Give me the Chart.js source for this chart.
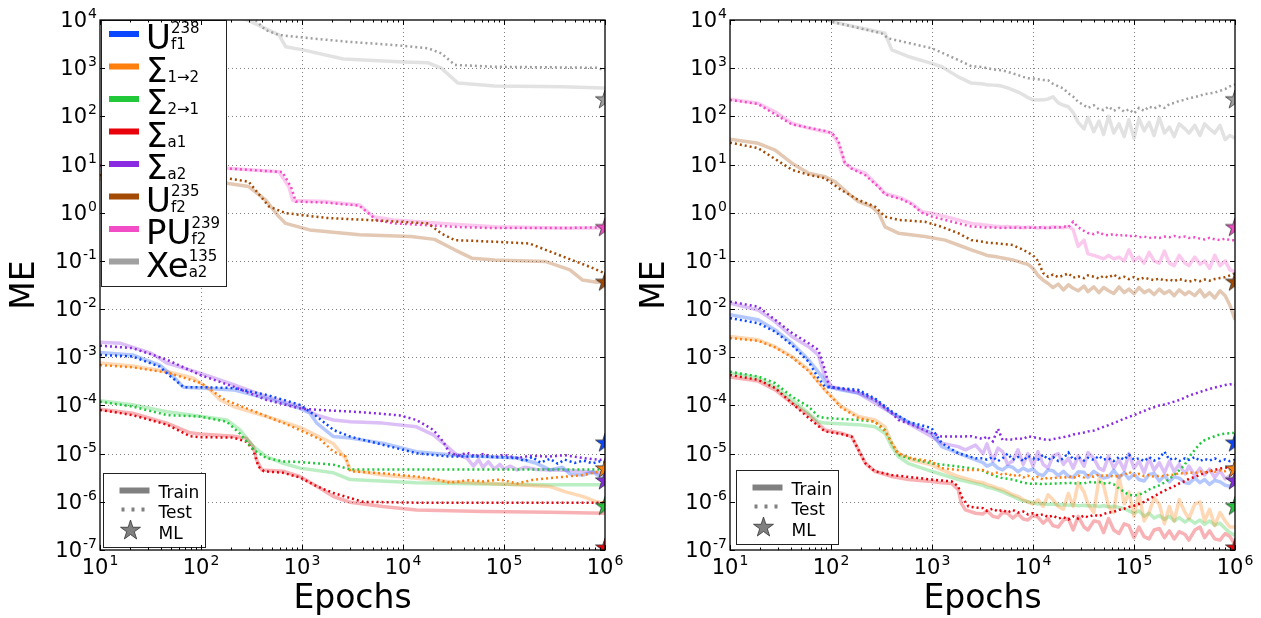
<!DOCTYPE html>
<html>
<head>
<meta charset="utf-8">
<script src="https://cdn.jsdelivr.net/npm/chart.js@4/dist/chart.umd.min.js"></script>
<style>
  body { margin: 0; background: #fff; }
  canvas { position: absolute; top: 0; }
</style>
</head>
<body>
<canvas id="leftPanel" width="630" height="618" style="left:0"></canvas>
<canvas id="rightPanel" width="631" height="618" style="left:630px"></canvas>
<script>
// series order: U238 f1, S 1->2, S 2->1, S a1, S a2, U235 f2, PU239 f2, Xe135 a2
const seriesColors = ['#0a47ff', '#ff7f0e', '#20c83a', '#e8000b', '#8a2be2', '#a34a04', '#f24cc6', '#a0a0a0'];
const legendMain = ['U', 'Σ', 'Σ', 'Σ', 'Σ', 'U', 'PU', 'Xe'];
const legendSup = ['238', '', '', '', '', '235', '239', '135'];
const legendSub = ['f1', '1→2', '2→1', 'a1', 'a2', 'f2', 'f2', 'a2'];

const xTicks = [1e1, 1e2, 1e3, 1e4, 1e5, 1e6];
const xTickExp = ['1', '2', '3', '4', '5', '6'];
const yTicks = [1e4, 1e3, 1e2, 1e1, 1e0, 1e-1, 1e-2, 1e-3, 1e-4, 1e-5, 1e-6, 1e-7];
const yTickExp = ['4', '3', '2', '1', '0', '-1', '-2', '-3', '-4', '-5', '-6', '-7'];

// ML reference values (stars at the last epoch)
const mlValues = [1.65e-5, 4.8e-6, 8e-7, 1.1e-7, 2.7e-6, 0.036, 0.49, 220];

// ---- left panel: [epoch, ME]
const leftTrain_U238 = [[10,1.26e-3],[21,1.12e-3],[39,6.9e-4],[53,4e-4],[67,2.4e-4],[98,2.3e-4],[210,2.1e-4],[445,1.4e-4],[955,8.7e-5],[1200,6.9e-5],[1400,4.3e-5],[2050,2.26e-5],[3000,2.1e-5],[6300,1.65e-5],[13600,1.1e-5],[29000,9.5e-6],[62000,8.7e-6],[135000,8.1e-6],[210000,6.3e-6],[285000,4.6e-6],[380000,5.2e-6],[450000,3.8e-6],[610000,3.6e-6],[750000,4.2e-6],[890000,3.35e-6],[1e6,3.3e-6]];
const leftTest_U238 = [[10,1.12e-3],[21,1.04e-3],[39,6.4e-4],[50,4e-4],[63,2.7e-4],[67,2.4e-4],[98,2.4e-4],[210,2.3e-4],[445,1.66e-4],[955,1.03e-4],[1400,5.9e-5],[2050,3.1e-5],[3000,2.26e-5],[13600,1.02e-5],[29000,8.7e-6],[62000,8.7e-6],[135000,8.1e-6],[160000,7e-6],[190000,8.5e-6],[230000,6.5e-6],[285000,7.8e-6],[340000,6.2e-6],[400000,7.5e-6],[500000,6.4e-6],[610000,7.2e-6],[750000,6.3e-6],[890000,6.9e-6],[1e6,6.7e-6]];
const leftTrain_S12 = [[10,7.6e-4],[21,6.6e-4],[47,5e-4],[84,3.7e-4],[123,2.1e-4],[155,1.3e-4],[210,9.5e-5],[445,5.9e-5],[955,3.5e-5],[2050,1.6e-5],[2700,8e-6],[3000,4.6e-6],[6300,3.6e-6],[13600,3.1e-6],[29000,2.6e-6],[62000,2.43e-6],[135000,2.25e-6],[285000,2.08e-6],[400000,1.63e-6],[610000,1.28e-6],[830000,1e-6],[1e6,9.3e-7]];
const leftTest_S12 = [[10,6.9e-4],[21,6.2e-4],[47,4.8e-4],[101,2.9e-4],[173,1.3e-4],[375,6.9e-5],[810,3.6e-5],[1500,2e-5],[2050,1.1e-5],[2700,8.7e-6],[3000,4.3e-6],[6300,3.9e-6],[13600,3.35e-6],[20000,3e-6],[29000,2.5e-6],[45000,2.8e-6],[62000,2.65e-6],[91000,2.9e-6],[135000,2.4e-6],[200000,2.9e-6],[285000,3.1e-6],[450000,3.4e-6],[610000,3.6e-6],[890000,4.3e-6],[1e6,4e-6]];
const leftTrain_S21 = [[10,1.26e-4],[21,1.03e-4],[46,7.4e-5],[98,6e-5],[180,5e-5],[243,3.1e-5],[330,1.4e-5],[445,8.7e-6],[650,6.3e-6],[955,5e-6],[2050,4e-6],[3000,2.9e-6],[13600,2.5e-6],[62000,2.35e-6],[285000,2.25e-6],[1e6,2.25e-6]];
const leftTest_S21 = [[10,1.2e-4],[21,9.5e-5],[46,6.3e-5],[98,5.9e-5],[180,4.6e-5],[243,2.6e-5],[330,1.2e-5],[445,8.1e-6],[650,6.9e-6],[955,6.7e-6],[2050,5.9e-6],[3000,4.7e-6],[1e6,4.7e-6]];
const leftTrain_Sa1 = [[10,8.3e-5],[21,6.9e-5],[46,4.3e-5],[78,2.7e-5],[98,2.55e-5],[210,2.3e-5],[280,2.1e-5],[330,1.4e-5],[355,7.4e-6],[400,4.6e-6],[650,4.3e-6],[955,3.35e-6],[1400,2.1e-6],[2050,1.29e-6],[3000,9.8e-7],[6300,8e-7],[13600,6.8e-7],[62000,6.3e-7],[285000,6.1e-7],[1e6,5.8e-7]];
const leftTest_Sa1 = [[10,8.1e-5],[21,6.3e-5],[46,4e-5],[78,2.3e-5],[98,2.2e-5],[210,2.15e-5],[280,1.77e-5],[330,1.2e-5],[370,5.4e-6],[420,4.3e-6],[650,4e-6],[955,3.2e-6],[1400,2.1e-6],[2050,1.52e-6],[3000,1.2e-6],[4000,1e-6],[13600,9.6e-7],[1e6,9.6e-7]];
const leftTrain_Sa2 = [[10,2.06e-3],[16,1.95e-3],[32,1.22e-3],[46,7.6e-4],[98,4.7e-4],[210,2.7e-4],[445,1.53e-4],[955,9.5e-5],[1400,6.3e-5],[2050,5e-5],[3000,4.6e-5],[6300,4.3e-5],[13600,3.6e-5],[20000,2.45e-5],[25000,1.65e-5],[34000,9.5e-6],[43000,8.1e-6],[50000,5.5e-6],[56000,7.5e-6],[62000,5.2e-6],[70000,6.8e-6],[80000,4.8e-6],[91000,6e-6],[100000,4.8e-6],[115000,5.5e-6],[135000,4.6e-6],[160000,5.2e-6],[210000,4.7e-6],[285000,4.6e-6],[400000,4.5e-6],[610000,4.3e-6],[890000,4e-6],[1e6,3.9e-6]];
const leftTest_Sa2 = [[10,1.74e-3],[21,1.55e-3],[46,8.9e-4],[98,4.3e-4],[210,2.45e-4],[445,1.3e-4],[955,8.7e-5],[1400,8.1e-5],[3000,7.5e-5],[6300,6.7e-5],[9300,6.2e-5],[13600,5e-5],[20000,3.1e-5],[25000,1.77e-5],[29000,1.02e-5],[36000,9.2e-6],[43000,1.05e-5],[52000,8.8e-6],[62000,9.8e-6],[80000,8.4e-6],[100000,9.5e-6],[135000,8.1e-6],[180000,9e-6],[285000,8.7e-6],[400000,9.3e-6],[610000,8.1e-6],[890000,7.4e-6],[1e6,7.8e-6]];
const leftTrain_U235 = [[10,5],[180,4.1],[297,3.5],[435,1.84],[590,0.83],[690,0.6],[1190,0.44],[3700,0.35],[12000,0.32],[20500,0.28],[32500,0.17],[48000,0.114],[81000,0.105],[260000,0.097],[450000,0.065],[600000,0.04],[830000,0.036],[1e6,0.038]];
const leftTest_U235 = [[10,6],[180,5.2],[297,4.4],[470,1.35],[690,0.98],[1740,0.78],[4400,0.71],[17800,0.6],[24000,0.37],[32500,0.27],[81000,0.25],[178000,0.23],[380000,0.124],[700000,0.076],[1e6,0.055]];
const leftTrain_PU239 = [[10,9.5],[180,8.4],[590,7.1],[740,3.5],[810,1.8],[1740,1.7],[3700,1.45],[5100,0.83],[8100,0.71],[17800,0.63],[38000,0.56],[81000,0.51],[380000,0.48],[1e6,0.48]];
const leftTest_PU239 = [[10,9.5],[180,8.3],[640,7],[780,3.4],[870,1.7],[1740,1.62],[3700,1.4],[5500,0.7],[8100,0.6],[17800,0.55],[38000,0.5],[81000,0.48],[380000,0.48],[1e6,0.5]];
const leftTrain_Xe135 = [[10,5e4],[100,2e4],[297,9700],[590,4900],[690,2790],[1020,2400],[2570,1550],[10200,1350],[17800,1290],[24000,1000],[35000,490],[81000,425],[380000,410],[950000,390],[1e6,380]];
const leftTest_Xe135 = [[10,5e4],[100,2.5e4],[350,9700],[435,6200],[590,4900],[945,4400],[2750,3550],[8100,3030],[17800,2580],[24000,2030],[32500,1170],[81000,1070],[830000,1020],[1e6,890]];

// ---- right panel: early part as [epoch, ME], noisy late part on lateEpochs
const lateEpochs = [3.2e3,3.5e3,4e3,4.5e3,5e3,5.6e3,6.3e3,7.1e3,8e3,8.9e3,1e4,1.12e4,1.26e4,1.41e4,1.58e4,1.78e4,2e4,2.24e4,2.5e4,2.8e4,3.2e4,3.5e4,4e4,4.5e4,5e4,5.6e4,6.3e4,7.1e4,8e4,8.9e4,1e5,1.12e5,1.26e5,1.41e5,1.58e5,1.78e5,2e5,2.24e5,2.5e5,2.8e5,3.2e5,3.5e5,4e5,4.5e5,5e5,5.6e5,6.3e5,7.1e5,8e5,8.9e5,1e6];

const rightTrainHead_U238 = [[10,7.6e-3],[19,6e-3],[28,3.7e-3],[41,1.96e-3],[60,8.9e-4],[81,4e-4],[93,2.45e-4],[127,2.1e-4],[187,1.8e-4],[272,1.3e-4],[400,6.9e-5],[580,4.6e-5],[990,2.66e-5],[1250,1.4e-5],[1820,1.02e-5],[2700,7.4e-6]];
const rightTrainTail_U238 = [6.5e-6,5.5e-6,6.2e-6,5e-6,4.6e-6,5.5e-6,5.2e-6,4.2e-6,5e-6,4.4e-6,
  4.8e-6,3.8e-6,3.5e-6,4.6e-6,4.4e-6,3.5e-6,4.3e-6,3.4e-6,3.2e-6,4.2e-6,
  4.1e-6,3.2e-6,4.3e-6,3.6e-6,3.1e-6,3.3e-6,4.5e-6,3.2e-6,4e-6,3e-6,
  3.8e-6,2.9e-6,2.7e-6,3.7e-6,3.9e-6,2.7e-6,3.5e-6,2.6e-6,3.3e-6,3.1e-6,
  2.5e-6,2.4e-6,3.1e-6,2.5e-6,2.9e-6,2.3e-6,2.8e-6,2.6e-6,2.2e-6,2.1e-6,
  2.4e-6];
const rightTestHead_U238 = [[10,6.5e-3],[19,5.1e-3],[28,3.4e-3],[41,1.8e-3],[60,8.1e-4],[75,3.7e-4],[87,2.45e-4],[187,2.1e-4],[272,1.4e-4],[400,7.5e-5],[580,4.6e-5],[990,3.4e-5],[1250,1.65e-5],[1820,1.02e-5],[2700,8e-6]];
const rightTestTail_U238 = [8e-6,7.5e-6,8.5e-6,7e-6,8e-6,1e-5,7.5e-6,8.5e-6,7e-6,9e-6,
  8e-6,7.5e-6,9.5e-6,7.5e-6,8.5e-6,7e-6,8e-6,1.05e-5,7.5e-6,8.5e-6,
  7.2e-6,8.2e-6,7.4e-6,9e-6,7.5e-6,8e-6,7e-6,8.5e-6,7.5e-6,9.5e-6,
  7.5e-6,8e-6,7e-6,8.5e-6,7.2e-6,8e-6,1.1e-5,7.5e-6,8.2e-6,7e-6,
  8e-6,7.4e-6,8.5e-6,7e-6,7.8e-6,7.2e-6,8e-6,7e-6,7.6e-6,7e-6,
  7.5e-6];

const rightTrainHead_S12 = [[10,2.7e-3],[19,2.3e-3],[28,1.66e-3],[41,1.04e-3],[60,5.5e-4],[87,2.1e-4],[127,9.5e-5],[187,5.9e-5],[272,5e-5],[343,3.6e-5],[400,1.65e-5],[464,1.02e-5],[630,7.4e-6],[990,5.9e-6],[1250,4.6e-6],[1820,3.35e-6],[2700,2.65e-6]];
const rightTrainTail_S12 = [2.5e-6,2.3e-6,2.1e-6,1.9e-6,1.8e-6,1.6e-6,1.4e-6,1.3e-6,1.1e-6,1e-6,
  9e-7,1.1e-6,8e-7,1.4e-6,1.1e-6,8e-7,7e-7,1.5e-6,8e-7,2.5e-6,
  1.6e-6,9e-7,6e-7,3e-6,2.2e-6,8e-7,6e-7,3.5e-6,9e-7,1.6e-6,
  5e-7,1.5e-6,4e-7,6e-7,1.2e-6,9e-7,3.5e-7,8e-7,4e-7,1.1e-6,
  6e-7,4.5e-7,9e-7,1e-6,4e-7,7e-7,3.2e-7,6e-7,4e-7,3e-7,
  3e-7];
const rightTestHead_S12 = [[10,2.5e-3],[19,2.2e-3],[28,1.6e-3],[41,1e-3],[60,5.2e-4],[87,2.1e-4],[127,9e-5],[187,5.5e-5],[272,4.6e-5],[343,2.9e-5],[400,1.65e-5],[464,1.02e-5],[630,8e-6],[990,6.9e-6],[1250,5e-6],[1820,4.6e-6],[2700,4.6e-6]];
const rightTestTail_S12 = [4.6e-6,4.2e-6,3.8e-6,4.1e-6,3.6e-6,3.9e-6,3.4e-6,3.7e-6,3.2e-6,3.5e-6,
  3e-6,3.3e-6,2.9e-6,3.2e-6,3e-6,3.3e-6,3.1e-6,3.4e-6,3.1e-6,3.5e-6,
  3.2e-6,3.6e-6,3.3e-6,3.7e-6,3.4e-6,3.6e-6,3.3e-6,3.5e-6,3.6e-6,4.2e-6,
  3.5e-6,3.8e-6,3.4e-6,3.6e-6,3.3e-6,3.5e-6,3.4e-6,3.7e-6,3.6e-6,4e-6,
  3.8e-6,4.1e-6,3.9e-6,4.3e-6,4e-6,4.4e-6,4.2e-6,4.5e-6,4.3e-6,4.6e-6,
  4.5e-6];

const rightTrainHead_S21 = [[10,4.7e-4],[19,3.7e-4],[28,2.45e-4],[41,1.3e-4],[60,6.9e-5],[75,4.6e-5],[87,4.3e-5],[187,4e-5],[272,3.6e-5],[343,2.66e-5],[400,1.4e-5],[464,8.7e-6],[580,6.3e-6],[990,4.3e-6],[1820,2.9e-6],[2700,2.4e-6]];
const rightTrainTail_S21 = [2.2e-6,2e-6,1.9e-6,1.75e-6,1.6e-6,1.45e-6,1.3e-6,1.15e-6,1.05e-6,1e-6,
  9.5e-7,9e-7,9.2e-7,8.8e-7,9e-7,8.6e-7,8.8e-7,8.5e-7,8.7e-7,8.3e-7,
  8.5e-7,8.2e-7,8.4e-7,8e-7,8.3e-7,7.9e-7,8.1e-7,7.6e-7,7.2e-7,6.5e-7,
  5.8e-7,6.5e-7,5e-7,5.8e-7,4.6e-7,5.2e-7,4.3e-7,5e-7,4e-7,4.7e-7,
  3.8e-7,4.4e-7,3.6e-7,4.2e-7,3.4e-7,4e-7,3.3e-7,3.6e-7,2.8e-7,2.3e-7,
  2e-7];
const rightTestHead_S21 = [[10,5e-4],[19,4e-4],[28,2.9e-4],[41,1.53e-4],[60,9.5e-5],[75,5.9e-5],[87,5.5e-5],[187,5e-5],[272,4.6e-5],[343,3.1e-5],[400,1.65e-5],[464,9.5e-6],[580,8.1e-6],[990,6.3e-6],[1820,5.4e-6],[2700,4.8e-6]];
const rightTestTail_S21 = [4.4e-6,4e-6,3.6e-6,3.3e-6,3.1e-6,3e-6,2.9e-6,2.7e-6,2.5e-6,2.4e-6,
  2.35e-6,2.4e-6,2.3e-6,2.4e-6,2.35e-6,2.45e-6,2.4e-6,2.5e-6,2.4e-6,2.45e-6,
  2.4e-6,2.6e-6,2.5e-6,2.6e-6,2.4e-6,2.5e-6,2.3e-6,1.9e-6,1.6e-6,1.4e-6,
  1.35e-6,1.4e-6,1.55e-6,1.8e-6,2e-6,2.2e-6,2.5e-6,3e-6,3.6e-6,4.5e-6,
  6e-6,8.5e-6,1.2e-5,1.6e-5,1.9e-5,2.1e-5,2.3e-5,2.5e-5,2.6e-5,2.65e-5,
  2.7e-5];

const rightTrainHead_Sa1 = [[10,3.9e-4],[19,3.2e-4],[28,2.1e-4],[41,1.12e-4],[60,6.4e-5],[87,3.1e-5],[127,2.66e-5],[160,2.26e-5],[187,1.2e-5],[219,6.3e-6],[272,4.3e-6],[400,3.35e-6],[580,2.9e-6],[990,2.65e-6],[1250,2.5e-6],[1570,2.4e-6],[1820,1.78e-6],[1950,9.3e-7],[2140,6.8e-7],[2700,5.8e-7]];
const rightTrainTail_Sa1 = [5.6e-7,6.5e-7,5e-7,4.7e-7,6e-7,5.8e-7,4.6e-7,5.6e-7,4.4e-7,4.2e-7,
  5.2e-7,4.8e-7,3.6e-7,4.5e-7,3.2e-7,3e-7,4.2e-7,4.5e-7,2.6e-7,5e-7,
  3e-7,2.6e-7,4e-7,3.8e-7,2.3e-7,4.5e-7,2.6e-7,2.2e-7,3.5e-7,3.2e-7,
  1.8e-7,3e-7,1.9e-7,1.7e-7,2.6e-7,2.8e-7,1.8e-7,2.5e-7,1.7e-7,2.4e-7,
  2.1e-7,1.6e-7,2.6e-7,3e-7,1.8e-7,2.5e-7,1.7e-7,1.6e-7,2.2e-7,1.9e-7,
  1.3e-7];
const rightTestHead_Sa1 = [[10,4.3e-4],[19,3.4e-4],[28,2.3e-4],[41,1.12e-4],[60,5.5e-5],[87,2.9e-5],[127,2.55e-5],[160,2.26e-5],[187,1.2e-5],[219,6.3e-6],[272,4.3e-6],[400,3.6e-6],[990,2.9e-6],[1570,2.65e-6],[1820,2.1e-6],[1950,1.29e-6],[2300,8e-7],[2700,7.6e-7]];
const rightTestTail_Sa1 = [7.4e-7,6.5e-7,7.2e-7,6.3e-7,6.8e-7,6e-7,6.8e-7,6e-7,6.3e-7,5.5e-7,
  5.8e-7,5.2e-7,5.5e-7,4.8e-7,5.2e-7,4.5e-7,4.8e-7,4.3e-7,5e-7,4.5e-7,
  5.2e-7,4.8e-7,5.4e-7,5e-7,5.6e-7,6e-7,6.2e-7,6.8e-7,7.2e-7,7.8e-7,
  8.3e-7,9e-7,1e-6,1.15e-6,1.3e-6,1.5e-6,1.7e-6,1.9e-6,2.1e-6,2.4e-6,
  2.7e-6,3e-6,3.3e-6,3.6e-6,4e-6,4.3e-6,4.6e-6,4.9e-6,5.1e-6,5.3e-6,
  5.4e-6];

const rightTrainHead_Sa2 = [[10,1.32e-2],[19,9.5e-3],[28,5.5e-3],[41,2.7e-3],[60,1.66e-3],[75,1.12e-3],[87,4e-4],[102,2.45e-4],[187,1.8e-4],[272,1.12e-4],[400,6.9e-5],[580,4.3e-5],[990,2.26e-5],[1250,1.65e-5],[1820,1.4e-5],[2140,1.2e-5],[2700,1.5e-5]];
const rightTrainTail_Sa2 = [1e-5,1.6e-5,7e-6,1.3e-5,1.1e-5,6e-6,7e-6,1.2e-5,6e-6,1e-5,
  5.5e-6,1.1e-5,6e-6,5e-6,9e-6,1e-5,6e-6,8e-6,5e-6,9e-6,
  5.5e-6,1.05e-5,8e-6,5e-6,4.5e-6,9e-6,5e-6,7.5e-6,4.5e-6,1e-5,
  5e-6,7e-6,4e-6,8e-6,4.5e-6,6.5e-6,4e-6,7e-6,4.2e-6,6e-6,
  3.8e-6,5.5e-6,3.5e-6,5e-6,3.6e-6,4.8e-6,3.2e-6,4.5e-6,3e-6,3.5e-6,
  2.6e-6];
const rightTestHead_Sa2 = [[10,1.43e-2],[19,1.12e-2],[28,6e-3],[41,3.2e-3],[60,1.96e-3],[75,1.42e-3],[87,5.5e-4],[96,2.45e-4],[187,1.95e-4],[272,1.3e-4],[400,6.9e-5],[464,5e-5],[630,4e-5],[990,2.66e-5],[1250,2.26e-5],[1820,2.26e-5],[2450,2.3e-5]];
const rightTestTail_Sa2 = [2e-5,2.3e-5,1.8e-5,3.3e-5,1.9e-5,2e-5,1.95e-5,2.1e-5,2e-5,2.3e-5,
  2.2e-5,2.1e-5,2e-5,1.9e-5,2e-5,2.1e-5,2.2e-5,2.3e-5,2.5e-5,2.6e-5,
  2.75e-5,2.9e-5,3e-5,3.3e-5,3.6e-5,3.9e-5,4.3e-5,4.8e-5,5.3e-5,5.8e-5,
  6.3e-5,7e-5,7.7e-5,8.5e-5,9.2e-5,1e-4,1.05e-4,1.12e-4,1.2e-4,1.3e-4,
  1.45e-4,1.6e-4,1.75e-4,1.9e-4,2.05e-4,2.2e-4,2.35e-4,2.5e-4,2.65e-4,2.75e-4,
  2.7e-4];

const rightTrainHead_U235 = [[10,33.5],[19,27.6],[28,20],[41,10.7],[60,6.6],[87,5.6],[110,4.4],[149,2.5],[187,1.7],[252,1.34],[297,0.98],[343,0.51],[464,0.376],[850,0.32],[1350,0.27],[1820,0.214],[2450,0.17]];
const rightTrainTail_U235 = [0.14,0.13,0.125,0.12,0.115,0.11,0.105,0.098,0.09,0.085,
  0.07,0.05,0.04,0.034,0.028,0.033,0.025,0.032,0.027,0.024,
  0.03,0.023,0.029,0.022,0.028,0.024,0.021,0.029,0.022,0.026,
  0.021,0.028,0.022,0.025,0.02,0.026,0.021,0.024,0.019,0.025,
  0.02,0.023,0.019,0.025,0.018,0.022,0.017,0.024,0.019,0.012,
  0.006];
const rightTestHead_U235 = [[10,28.5],[19,21.9],[41,7.8],[60,6.1],[87,5.2],[127,2.95],[187,1.84],[272,1.34],[343,0.83],[464,0.71],[850,0.65],[1250,0.51],[1820,0.376],[2450,0.27]];
const rightTestTail_U235 = [0.25,0.24,0.235,0.23,0.225,0.22,0.214,0.19,0.17,0.15,
  0.13,0.1,0.056,0.047,0.052,0.046,0.05,0.055,0.045,0.048,
  0.044,0.05,0.047,0.043,0.049,0.045,0.052,0.044,0.047,0.042,
  0.046,0.041,0.045,0.042,0.04,0.043,0.039,0.041,0.038,0.042,
  0.039,0.037,0.04,0.038,0.041,0.039,0.042,0.044,0.046,0.05,
  0.055];

const rightTrainHead_PU239 = [[10,226],[19,187],[28,125],[41,72],[60,57],[87,48],[102,45],[118,27.6],[137,10.7],[160,8.4],[219,6.6],[297,3.5],[343,2.5],[500,2],[630,1.57],[795,1.05],[1000,0.98],[1820,0.71],[2450,0.6]];
const rightTrainTail_PU239 = [0.56,0.55,0.53,0.52,0.51,0.52,0.5,0.51,0.49,0.5,
  0.5,0.48,0.5,0.49,0.51,0.5,0.49,0.51,0.45,0.2,
  0.27,0.14,0.13,0.12,0.11,0.13,0.11,0.12,0.1,0.17,
  0.1,0.12,0.09,0.15,0.1,0.09,0.16,0.09,0.08,0.13,
  0.09,0.08,0.12,0.085,0.1,0.07,0.13,0.08,0.1,0.065,
  0.06];
const rightTestHead_PU239 = [[10,220],[19,180],[41,68],[87,50],[102,45],[118,32],[137,11],[160,8.2],[219,6],[297,3.4],[343,2.4],[500,1.9],[630,1.5],[795,1],[1000,0.83],[1820,0.6],[2450,0.52]];
const rightTestTail_PU239 = [0.5,0.49,0.5,0.48,0.49,0.48,0.5,0.48,0.49,0.5,
  0.48,0.5,0.49,0.48,0.5,0.49,0.52,0.5,0.65,0.5,
  0.42,0.38,0.36,0.4,0.35,0.34,0.36,0.33,0.35,0.32,
  0.34,0.31,0.32,0.3,0.31,0.3,0.32,0.31,0.33,0.31,
  0.32,0.3,0.31,0.29,0.28,0.3,0.28,0.27,0.29,0.27,
  0.27];

const rightTrainHead_Xe135 = [[10,6e4],[50,2e4],[102,9200],[343,5300],[400,2400],[580,1750],[990,1260],[1250,1070],[1820,660],[2450,490]];
const rightTrainTail_Xe135 = [470,455,445,435,420,390,355,320,280,245,
  220,218,220,230,255,190,170,158,120,75,
  55,95,48,80,42,100,45,70,38,85,
  35,90,50,75,40,95,45,60,38,70,
  55,45,65,40,70,55,45,65,33,40,
  35];
const rightTestHead_Xe135 = [[10,6e4],[50,2e4],[102,9200],[316,5300],[370,4150],[990,2600],[1820,1480],[2450,1100]];
const rightTestTail_Xe135 = [1050,1000,950,920,900,840,780,720,660,620,
  610,590,570,560,470,420,380,300,257,200,
  170,150,170,140,135,160,130,150,125,140,
  115,150,130,160,145,165,150,180,190,210,
  220,240,250,270,290,300,310,340,370,420,
  460];

// ---------- assembling
const withTail = (head, tail) => head.concat(tail.map((v, i) => [lateEpochs[i], v]));

const leftTrain = [leftTrain_U238, leftTrain_S12, leftTrain_S21, leftTrain_Sa1, leftTrain_Sa2, leftTrain_U235, leftTrain_PU239, leftTrain_Xe135];
const leftTest = [leftTest_U238, leftTest_S12, leftTest_S21, leftTest_Sa1, leftTest_Sa2, leftTest_U235, leftTest_PU239, leftTest_Xe135];
const rightTrain = [
  withTail(rightTrainHead_U238, rightTrainTail_U238), withTail(rightTrainHead_S12, rightTrainTail_S12),
  withTail(rightTrainHead_S21, rightTrainTail_S21), withTail(rightTrainHead_Sa1, rightTrainTail_Sa1),
  withTail(rightTrainHead_Sa2, rightTrainTail_Sa2), withTail(rightTrainHead_U235, rightTrainTail_U235),
  withTail(rightTrainHead_PU239, rightTrainTail_PU239), withTail(rightTrainHead_Xe135, rightTrainTail_Xe135)];
const rightTest = [
  withTail(rightTestHead_U238, rightTestTail_U238), withTail(rightTestHead_S12, rightTestTail_S12),
  withTail(rightTestHead_S21, rightTestTail_S21), withTail(rightTestHead_Sa1, rightTestTail_Sa1),
  withTail(rightTestHead_Sa2, rightTestTail_Sa2), withTail(rightTestHead_U235, rightTestTail_U235),
  withTail(rightTestHead_PU239, rightTestTail_PU239), withTail(rightTestHead_Xe135, rightTestTail_Xe135)];

const FONT = '"DejaVu Sans", sans-serif';

function hexAlpha(hex, a) {
  const n = parseInt(hex.slice(1), 16);
  return `rgba(${n >> 16},${(n >> 8) & 255},${n & 255},${a})`;
}

function starPath(g, cx, cy, R) {
  g.beginPath();
  for (let k = 0; k < 10; k++) {
    const r = k % 2 ? R * 0.382 : R;
    const t = -Math.PI / 2 + k * Math.PI / 5;
    g.lineTo(cx + r * Math.cos(t), cy + r * Math.sin(t));
  }
  g.closePath();
}

function starImage(fill, R) {
  const size = Math.ceil(2 * R + 4);
  const c = document.createElement('canvas');
  c.width = size; c.height = size;
  const g = c.getContext('2d');
  starPath(g, size / 2, size / 2, R);
  g.fillStyle = fill; g.fill();
  g.lineWidth = 0.8; g.strokeStyle = '#333'; g.stroke();
  return c;
}
const starImgs = seriesColors.map(c => starImage(c, 10));

function powLabel(ctx, exp, x, y, align) {
  ctx.font = '21px ' + FONT;
  const wb = ctx.measureText('10').width;
  ctx.font = '14px ' + FONT;
  const we = ctx.measureText(exp).width;
  const total = wb + 1 + we;
  const x0 = align === 'right' ? x - total : x - total / 2;
  ctx.textAlign = 'left'; ctx.textBaseline = 'alphabetic';
  ctx.font = '21px ' + FONT;
  ctx.fillText('10', x0, y);
  ctx.font = '14px ' + FONT;
  ctx.fillText(exp, x0 + wb + 1, y - 9);
}

function decor(opts) {
  return {
    id: 'decor',
    beforeDatasetsDraw(chart) {
      const { ctx, chartArea: a, scales: { x, y } } = chart;
      ctx.save();
      ctx.strokeStyle = 'rgba(0,0,0,0.5)';
      ctx.lineWidth = 1;
      ctx.setLineDash([1, 3]);
      ctx.beginPath();
      xTicks.slice(1, -1).forEach(v => {
        const px = Math.round(x.getPixelForValue(v)) + 0.5;
        ctx.moveTo(px, a.top); ctx.lineTo(px, a.bottom);
      });
      yTicks.slice(1, -1).forEach(v => {
        const py = Math.round(y.getPixelForValue(v)) + 0.5;
        ctx.moveTo(a.left, py); ctx.lineTo(a.right, py);
      });
      ctx.stroke();
      ctx.restore();
    },
    afterDraw(chart) {
      const { ctx, chartArea: a, scales: { x, y } } = chart;
      ctx.save();
      ctx.fillStyle = '#000';

      // big legend (left panel only)
      if (opts.bigLegend) {
        const bx = a.left + 1.5, by = a.top + 0.5;
        ctx.fillStyle = '#fff';
        ctx.fillRect(bx, by, 125, 266);
        ctx.strokeStyle = '#222'; ctx.lineWidth = 1;
        ctx.strokeRect(bx, by, 125, 266);
        legendMain.forEach((m, i) => {
          const cy = a.top + 14 + i * 32.5;
          ctx.fillStyle = seriesColors[i];
          ctx.fillRect(a.left + 9, cy - 3, 30, 6);
          ctx.fillStyle = '#000';
          ctx.textAlign = 'left'; ctx.textBaseline = 'alphabetic';
          ctx.font = '34px ' + FONT;
          const tx = a.left + 46;
          ctx.fillText(m, tx, cy + 15);
          const w = ctx.measureText(m).width;
          ctx.font = '15px ' + FONT;
          if (legendSup[i]) ctx.fillText(legendSup[i], tx + w, cy - 1);
          ctx.fillText(legendSub[i], tx + w, cy + 15);
        });
      }

      // small legend: Train / Test / ML
      {
        const bx = a.left + opts.smallDx + 0.5, by = opts.smallTop + 0.5;
        ctx.fillStyle = '#fff';
        ctx.fillRect(bx, by, 102, 74);
        ctx.strokeStyle = '#222'; ctx.lineWidth = 1;
        ctx.strokeRect(bx, by, 102, 74);
        ctx.strokeStyle = '#808080';
        ctx.lineWidth = 6;
        ctx.beginPath(); ctx.moveTo(bx + 16, by + 17); ctx.lineTo(bx + 46, by + 17); ctx.stroke();
        ctx.lineWidth = 4;
        ctx.setLineDash([3, 7]);
        ctx.beginPath(); ctx.moveTo(bx + 18, by + 36); ctx.lineTo(bx + 46, by + 36); ctx.stroke();
        ctx.setLineDash([]);
        starPath(ctx, bx + 27, by + 57, 10.5);
        ctx.fillStyle = '#808080'; ctx.fill();
        ctx.lineWidth = 0.8; ctx.strokeStyle = '#333'; ctx.stroke();
        ctx.fillStyle = '#000';
        ctx.font = '17px ' + FONT; ctx.textAlign = 'left'; ctx.textBaseline = 'alphabetic';
        ctx.fillText('Train', bx + 55, by + 24);
        ctx.fillText('Test', bx + 55, by + 44);
        ctx.fillText('ML', bx + 55, by + 65);
      }

      // frame and ticks
      ctx.strokeStyle = '#000'; ctx.lineWidth = 1.3;
      ctx.strokeRect(a.left, a.top, a.right - a.left, a.bottom - a.top);
      ctx.lineWidth = 1;
      ctx.beginPath();
      for (let d = 1; d <= 6; d++) {
        const px = Math.round(x.getPixelForValue(Math.pow(10, d))) + 0.5;
        ctx.moveTo(px, a.bottom); ctx.lineTo(px, a.bottom - 5);
        ctx.moveTo(px, a.top); ctx.lineTo(px, a.top + 5);
        if (d < 6) {
          for (let m = 2; m <= 9; m++) {
            const q = Math.round(x.getPixelForValue(m * Math.pow(10, d))) + 0.5;
            ctx.moveTo(q, a.bottom); ctx.lineTo(q, a.bottom - 2.5);
            ctx.moveTo(q, a.top); ctx.lineTo(q, a.top + 2.5);
          }
        }
      }
      yTicks.forEach(v => {
        const py = Math.round(y.getPixelForValue(v)) + 0.5;
        ctx.moveTo(a.left, py); ctx.lineTo(a.left + 5, py);
        ctx.moveTo(a.right, py); ctx.lineTo(a.right - 5, py);
      });
      ctx.stroke();

      // tick labels
      ctx.fillStyle = '#000';
      yTicks.forEach((v, i) => powLabel(ctx, yTickExp[i], a.left - 3, y.getPixelForValue(v) + 7, 'right'));
      xTicks.forEach((v, i) => powLabel(ctx, xTickExp[i], x.getPixelForValue(v), a.bottom + 24, 'center'));

      // axis titles
      ctx.font = '33px ' + FONT;
      ctx.textAlign = 'center'; ctx.textBaseline = 'alphabetic';
      ctx.fillText('Epochs', (a.left + a.right) / 2, a.bottom + 58);
      ctx.save();
      ctx.translate(a.left - 75, (a.top + a.bottom) / 2);
      ctx.rotate(-Math.PI / 2);
      ctx.textBaseline = 'middle';
      ctx.fillText('ME', 0, 0);
      ctx.restore();

      ctx.restore();
    }
  };
}

function buildPanel(canvasId, train, test, opts, padRight) {
  const datasets = [{
    data: mlValues.map(v => ({ x: 1e6, y: v })),
    showLine: false,
    pointStyle: ctx => starImgs[ctx.dataIndex],
    pointRadius: 9,
    pointHoverRadius: 9,
    order: 0,
    clip: 0
  }];
  test.forEach((s, i) => datasets.push({
    data: s.map(p => ({ x: p[0], y: p[1] })),
    borderColor: seriesColors[i],
    borderWidth: 2.5,
    borderDash: [2, 3],
    pointRadius: 0,
    order: 1,
    clip: 0
  }));
  train.forEach((s, i) => datasets.push({
    data: s.map(p => ({ x: p[0], y: p[1] })),
    borderColor: hexAlpha(seriesColors[i], 0.3),
    borderWidth: 3.5,
    borderJoinStyle: 'round',
    pointRadius: 0,
    order: 2,
    clip: 0
  }));

  return new Chart(document.getElementById(canvasId), {
    type: 'line',
    data: { datasets },
    options: {
      responsive: false,
      animation: false,
      devicePixelRatio: 1,
      events: [],
      layout: { padding: { left: 100, right: padRight, top: 20, bottom: 68 } },
      scales: {
        x: { type: 'logarithmic', min: 10, max: 1e6, display: false },
        y: { type: 'logarithmic', min: 1e-7, max: 1e4, display: false }
      },
      plugins: { legend: { display: false }, tooltip: { enabled: false } }
    },
    plugins: [decor(opts)]
  });
}

buildPanel('leftPanel', leftTrain, leftTest, { bigLegend: true, smallDx: 3, smallTop: 473 }, 25);
buildPanel('rightPanel', rightTrain, rightTest, { bigLegend: false, smallDx: 6, smallTop: 470 }, 26);
</script>
</body>
</html>
